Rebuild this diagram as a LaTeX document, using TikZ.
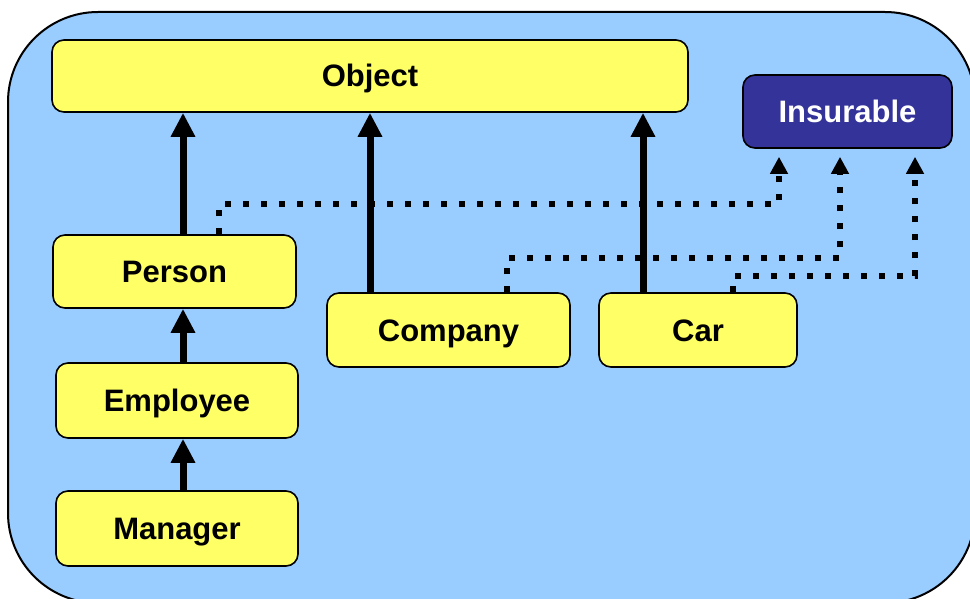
\documentclass[tikz,border=0pt]{standalone}
\usepackage{fontspec}
\setmainfont{Liberation Sans}
\usetikzlibrary{arrows.meta}
\definecolor{bgblue}{HTML}{99CCFF}
\definecolor{boxyellow}{HTML}{FFFF66}
\definecolor{insblue}{HTML}{333399}
\tikzset{
  cls/.style={draw=black, line width=1.6pt, fill=boxyellow, rounded corners=12pt,
    inner sep=0pt, text height=22pt, text depth=-3pt,
    font=\fontsize{31}{36}\selectfont\bfseries},
  iface/.style={cls, fill=insblue, text=white},
  inh/.style={line width=7pt, -{Triangle[width=23pt,length=24pt]}},
  impl/.style={line width=6pt, dash pattern=on 6pt off 12pt,
    -{Triangle[width=17pt,length=17pt]}},
}
\begin{document}
\begin{tikzpicture}[x=1pt,y=-1pt]
\useasboundingbox (0,0) rectangle (970,599);
\draw[line width=2pt, fill=bgblue, rounded corners=90pt] (8,12) rectangle (975,603);

\node[cls, minimum width=636pt, minimum height=72pt] (object) at (370,76) {Object};
\node[iface, minimum width=209pt, minimum height=73pt] (ins) at (847.5,111.5) {Insurable};
\node[cls, minimum width=243pt, minimum height=73pt] (person) at (174.5,271.5) {Person};
\node[cls, minimum width=243pt, minimum height=74pt] (company) at (448.5,330) {Company};
\node[cls, minimum width=198pt, minimum height=74pt] (car) at (698,330) {Car};
\node[cls, minimum width=242pt, minimum height=75pt] (employee) at (177,400.5) {Employee};
\node[cls, minimum width=242pt, minimum height=75pt] (manager) at (177,528.5) {Manager};

% implements (dotted)
\draw[impl] ([xshift=44.5pt]person.north) -- ++(0,-30) -| ([xshift=-68.5pt,yshift=-8pt]ins.south);
\draw[impl] ([xshift=58.5pt]company.north) -- ++(0,-34) -| ([xshift=-7.5pt,yshift=-8pt]ins.south);
\draw[impl] ([xshift=35pt]car.north) -- ++(0,-16) -| ([xshift=67.5pt,yshift=-8pt]ins.south);

% inheritance (solid)
\draw[inh] ([xshift=8.5pt]person.north) -- ([xshift=8.5pt]person.north |- object.south);
\draw[inh] ([xshift=-78.5pt]company.north) -- ([xshift=-78.5pt]company.north |- object.south);
\draw[inh] ([xshift=-55pt]car.north) -- ([xshift=-55pt]car.north |- object.south);
\draw[inh] ([xshift=6pt]employee.north) -- ([xshift=6pt]employee.north |- person.south);
\draw[inh] ([xshift=6pt]manager.north) -- ([xshift=6pt]manager.north |- employee.south);
\end{tikzpicture}
\end{document}
